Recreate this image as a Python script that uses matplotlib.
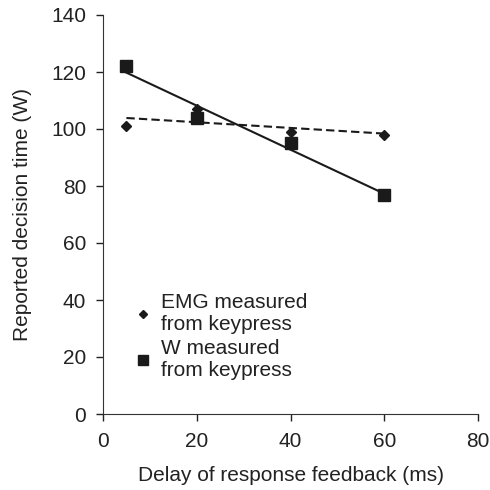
import numpy as np
import matplotlib
matplotlib.use("Agg")
import matplotlib.pyplot as plt

plt.rcParams['font.family'] = ['Liberation Sans', 'DejaVu Sans']

delay = [5, 20, 40, 60]
emg = [101, 107, 99, 98]
w_key = [122, 104, 95, 77]

fig = plt.figure(figsize=(4.9, 4.9), dpi=100)
ax = fig.add_axes([103 / 490, 76 / 490, 375 / 490, 399 / 490])

x = np.array(delay)
p_emg = np.polyfit(x, emg, 1)
p_w = np.polyfit(x, w_key, 1)
xs = np.array([delay[0], delay[-1]])

ink = '#1a1a1a'
ax.plot(xs, np.polyval(p_emg, xs), color=ink, ls=(0, (4, 2)), lw=1.5)
ax.plot(xs, np.polyval(p_w, xs), color=ink, ls='-', lw=1.5)
ax.plot(delay, emg, 'D', color=ink, ms=5, ls='none',
        label='EMG measured\nfrom keypress')
ax.plot(delay, w_key, 's', color=ink, ms=8, ls='none',
        label='W measured\nfrom keypress')

ax.set_xlim(0, 80)
ax.set_ylim(0, 140)
ax.set_xticks([0, 20, 40, 60, 80])
ax.set_yticks(range(0, 141, 20))
for s in ['top', 'right']:
    ax.spines[s].set_visible(False)
for s in ['left', 'bottom']:
    ax.spines[s].set_color('#333333')
ax.tick_params(labelsize=15, length=5, width=1, colors='#222222')
ax.tick_params(axis='y', pad=7)
ax.tick_params(axis='x', pad=8)
ax.set_xlabel('Delay of response feedback (ms)', fontsize=15, labelpad=11,
              color='#222222')
ax.set_ylabel('Reported decision time (W)', fontsize=15, labelpad=14,
              color='#222222')

leg = ax.legend(loc='upper left', bbox_to_anchor=(0.08, 0.303), frameon=False,
                fontsize=15, handletextpad=0.35, handlelength=1.0,
                labelspacing=0.25, borderpad=0, borderaxespad=0,
                markerscale=0.85)
for t in leg.get_texts():
    t.set_linespacing(1.2)
    t.set_color('#222222')

fig.savefig('out.png', dpi=100)
